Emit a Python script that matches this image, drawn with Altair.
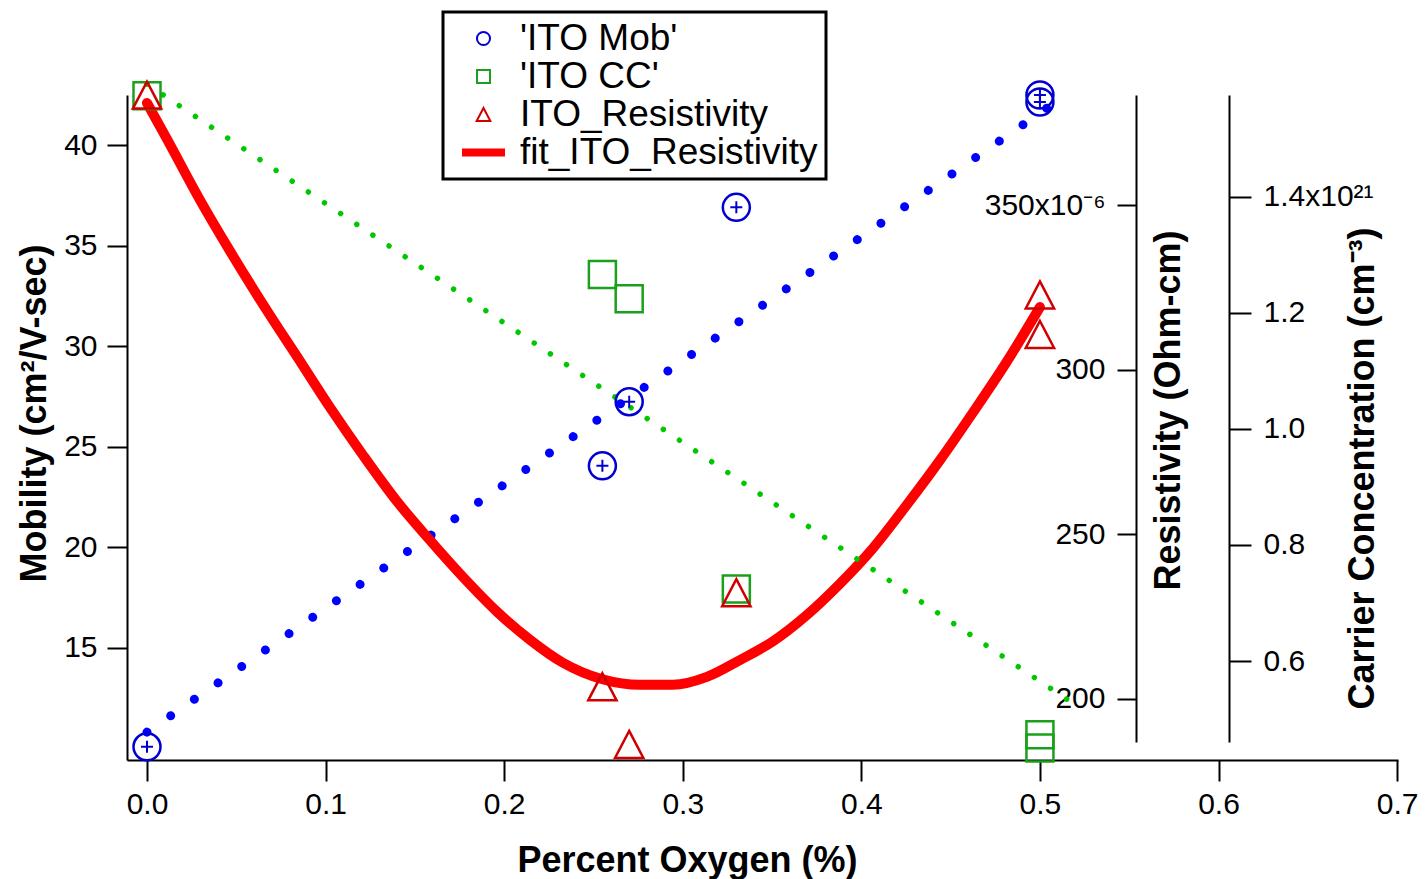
import altair as alt
import pandas as pd

# ---------------- data ----------------
pct_oxygen = [0.0, 0.255, 0.27, 0.33, 0.5, 0.5]
mobility = [10.07, 24.05, 27.24, 36.91, 42.5, 42.15]          # cm2/V-sec
carrier_e21 = [1.574, 1.266, 1.224, 0.724, 0.473, 0.450]      # x10^21 cm-3
resistivity_e6 = [383.4, 203.7, 186.2, 232.3, 322.7, 310.7]   # x10^-6 Ohm-cm

mob_fit_x = [0.0, 0.508]
mob_fit_y = [10.8, 42.1]
cc_fit_x = [0.0, 0.52]
cc_fit_y = [1.594, 0.524]

res_fit_x = [0.0, 0.0112, 0.0297, 0.0465, 0.0689, 0.084, 0.1025, 0.121, 0.140,
             0.158, 0.177, 0.196, 0.2144, 0.2329, 0.255, 0.276, 0.2945, 0.3135,
             0.332, 0.3505, 0.3695, 0.388, 0.4065, 0.4255, 0.444, 0.4625, 0.4815, 0.5]
res_fit_y = [381.0, 370.0, 351.5, 336.0, 316.5, 304.0, 288.5, 274.0, 260.0,
             248.5, 237.0, 226.5, 218.0, 211.0, 206.0, 204.3, 204.3, 206.7,
             211.8, 217.5, 225.5, 235.0, 245.8, 259.0, 272.5, 287.0, 302.5, 319.0]

series_names = ["'ITO Mob'", "'ITO CC'", "ITO_Resistivity", "fit_ITO_Resistivity"]
series_colors = ["#0000d0", "#1aa01a", "#d00000", "#ff0000"]
tri_path = "M0,-1L1.05,1L-1.05,1Z"
stroke_path = ("M-3.3,-0.45L3.3,-0.45M-3.3,-0.15L3.3,-0.15"
               "M-3.3,0.15L3.3,0.15M-3.3,0.45L3.3,0.45")
series_shapes = ["circle", "square", tri_path, stroke_path]

x_ticks = [0.0, 0.1, 0.2, 0.3, 0.4, 0.5, 0.6, 0.7]
mob_ticks = [15, 20, 25, 30, 35, 40]
res_ticks = [200, 250, 300, 350]
cc_ticks = [0.6, 0.8, 1.0, 1.2, 1.4]

# ---------------- tables ----------------
pts = pd.DataFrame({"x": pct_oxygen, "mob": mobility, "cc": carrier_e21, "res": resistivity_e6})
mob_pts = pts.assign(series=series_names[0])
cc_pts = pts.assign(series=series_names[1])
res_pts = pts.assign(series=series_names[2])
mob_fit = pd.DataFrame({"x": mob_fit_x, "mob": mob_fit_y})
cc_fit = pd.DataFrame({"x": cc_fit_x, "cc": cc_fit_y})
res_fit = pd.DataFrame({"x": res_fit_x, "res": res_fit_y})

FONT = "Liberation Sans"

x_enc = alt.X(
    "x:Q",
    scale=alt.Scale(domain=[-0.0112, 0.7005], nice=False, zero=False),
    axis=alt.Axis(values=x_ticks, format=".1f", tickSize=21, labelPadding=8,
                  title="Percent Oxygen (%)", titleX=560, titleY=100,
                  titleBaseline="middle", labelFlush=False, labelOverlap=False),
)

mob_scale = alt.Scale(domain=[9.413, 42.5], nice=False, zero=False)
res_scale = alt.Scale(domain=[186.94, 383.42], range=[647, 0], nice=False, zero=False)
cc_scale = alt.Scale(domain=[0.4605, 1.5752], range=[647, 0], nice=False, zero=False)

mob_axis = alt.Axis(orient="left", values=mob_ticks, format="d", tickSize=20, labelPadding=10,
                    title="Mobility (cm²/V-sec)", titleX=-93, titleY=318, titleAngle=270,
                    titleBaseline="middle", labelFlush=False, labelOverlap=False)
res_axis = alt.Axis(orient="left", offset=-1009, values=res_ticks, tickSize=19, labelPadding=12,
                    labelExpr="datum.value == 350 ? '350x10⁻⁶' : format(datum.value, 'd')",
                    title="Resistivity (Ohm-cm)", titleX=32, titleY=315, titleAngle=270,
                    titleBaseline="middle", labelFlush=False, labelOverlap=False)
cc_axis = alt.Axis(orient="right", offset=-169, values=cc_ticks, tickSize=22, labelPadding=12,
                   labelExpr="datum.value == 1.4 ? '1.4x10²¹' : format(datum.value, '.1f')",
                   title="Carrier Concentration (cm⁻³)", titleX=133, titleY=373, titleAngle=270,
                   titleBaseline="middle", labelFlush=False, labelOverlap=False)

legend = alt.Legend(title=None, orient="none", legendX=316, legendY=-83,
                    strokeColor="black", fillColor="white", padding=8,
                    labelFontSize=37, labelFont=FONT, labelColor="black", labelLimit=0,
                    symbolSize=170, symbolStrokeWidth=2, symbolOffset=14,
                    labelOffset=18, rowPadding=0)
color_enc = alt.Color("series:N", scale=alt.Scale(domain=series_names, range=series_colors), legend=legend)
shape_enc = alt.Shape("series:N", scale=alt.Scale(domain=series_names, range=series_shapes), legend=legend)

# ---------------- layers ----------------
mob_line = alt.Chart(mob_fit).mark_line(
    color="#0000ff", strokeWidth=9, strokeCap="round", strokeDash=[0.01, 28.8]
).encode(x=x_enc, y=alt.Y("mob:Q", scale=mob_scale, axis=mob_axis))

res_line = alt.Chart(res_fit).mark_line(
    color="#ff0000", strokeWidth=10, strokeCap="round", strokeJoin="round", interpolate="monotone"
).encode(x=x_enc, y=alt.Y("res:Q", scale=res_scale, axis=res_axis))

cc_line = alt.Chart(cc_fit).mark_line(
    color="#00c800", strokeWidth=5.5, strokeCap="round", strokeDash=[0.01, 19.4]
).encode(x=x_enc, y=alt.Y("cc:Q", scale=cc_scale, axis=cc_axis))

cc_mark = alt.Chart(cc_pts).mark_point(filled=False, size=729, strokeWidth=2.5, opacity=1).encode(
    x=x_enc, y=alt.Y("cc:Q", scale=cc_scale, axis=None), color=color_enc, shape=shape_enc)

res_mark = alt.Chart(res_pts).mark_point(filled=False, size=729, strokeWidth=2.5, opacity=1).encode(
    x=x_enc, y=alt.Y("res:Q", scale=res_scale, axis=None), color=color_enc, shape=shape_enc)

mob_mark = alt.Chart(mob_pts).mark_point(filled=False, size=729, strokeWidth=2.5, opacity=1).encode(
    x=x_enc, y=alt.Y("mob:Q", scale=mob_scale, axis=None), color=color_enc, shape=shape_enc)

mob_plus = alt.Chart(mob_pts).mark_point(
    filled=False, size=144, strokeWidth=2, opacity=1, color="#0000d0", shape="M-1,0L1,0M0,-1L0,1"
).encode(x=x_enc, y=alt.Y("mob:Q", scale=mob_scale, axis=None))

chart = (
    alt.layer(mob_line, res_line, cc_line, cc_mark, res_mark, mob_mark, mob_plus)
    .resolve_scale(y="independent")
    .properties(width=1271, height=665, autosize=alt.AutoSizeParams(type="none"),
                padding={"left": 127, "top": 95, "right": 28, "bottom": 119},
                background="white")
    .configure_view(strokeWidth=0)
    .configure_axis(domainColor="black", domainWidth=2, tickColor="black", tickWidth=2,
                    labelFont=FONT, labelFontSize=30, labelColor="black",
                    titleFont=FONT, titleFontSize=36, titleFontWeight="bold", titleColor="black",
                    grid=False)
    .configure_legend(strokeWidth=3)
)

chart.save("out.html", embed_options={"renderer": "svg", "actions": False})
